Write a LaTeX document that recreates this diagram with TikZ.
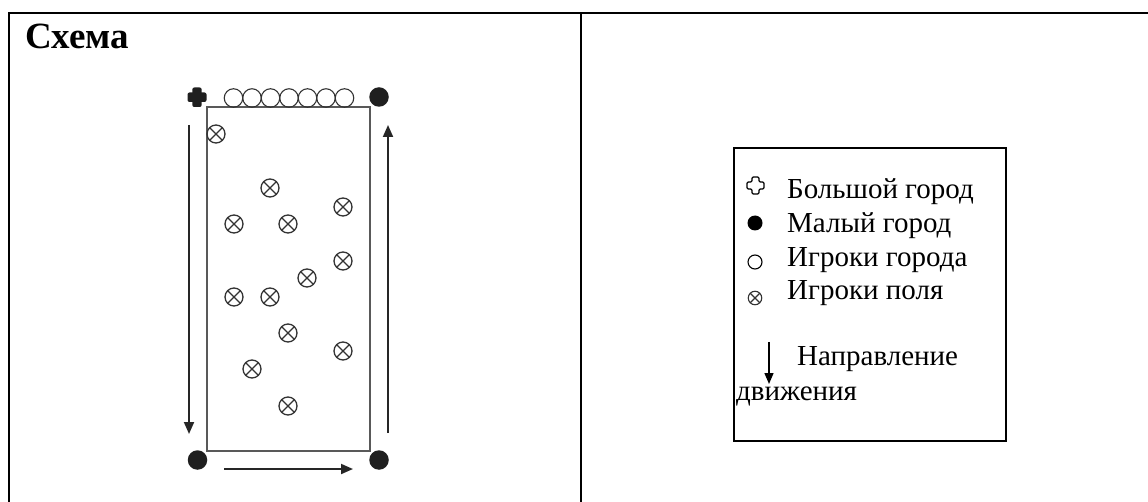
\documentclass[tikz,border=0pt]{standalone}
\usepackage{fontspec}
\setmainfont{Liberation Serif}
\usetikzlibrary{arrows.meta}
\begin{document}
\begin{tikzpicture}[x=1pt,y=-1pt,
  frame/.style={line width=2.4pt,black},
  pitch/.style={draw=black!65,line width=1.4pt,fill=white,minimum width=163pt,minimum height=344pt,inner sep=0pt},
  town/.style={circle,fill=black!88,minimum size=19.5pt,inner sep=0pt},
  cityplayer/.style={circle,draw=black!80,line width=1.1pt,minimum size=18.5pt,inner sep=0pt},
  fieldplayer/.style={circle,draw=black!80,line width=1.3pt,minimum size=18pt,inner sep=0pt,
    path picture={\draw[black!80,line width=1.3pt]
      (path picture bounding box.north west)--(path picture bounding box.south east)
      (path picture bounding box.north east)--(path picture bounding box.south west);}},
  move/.style={line width=1.9pt,black!85,-{Triangle[length=12pt,width=10pt]}},
  legtext/.style={anchor=base west,inner sep=0pt,font=\fontsize{29}{34}\selectfont},
  keycity/.style={circle,draw=black,line width=1.1pt,minimum size=14pt,inner sep=0pt},
  keytown/.style={circle,fill=black,minimum size=15pt,inner sep=0pt},
  keyfield/.style={fieldplayer,minimum size=13.5pt,line width=1.1pt},
]
\useasboundingbox (0,0) rectangle (1148,502);

% table frame
\draw[frame] (9,520) -- (9,13) -- (1160,13);
\draw[frame] (581,13) -- (581,520);
\node[anchor=base west,inner sep=0pt,font=\fontsize{37}{42}\selectfont\bfseries] (title) at (25,49) {Схема};

% pitch
\node[pitch] (field) at (288.5,279) {};

% big city: filled cross
\fill[black!88,rounded corners=2pt] (187.5,92.5) rectangle (206.5,102);
\fill[black!88,rounded corners=2pt] (192.3,87.5) rectangle (201.7,107);
\coordinate (bigcity) at (197,97);

% small towns
\node[town] (townNE) at (379,97) {};
\node[town] (townSW) at (197.5,460) {};
\node[town] (townSE) at (379,460) {};

% city players lined up along the top edge
\foreach \i in {0,...,6}
  \node[cityplayer] (cp\i) at (233.5+18.5*\i,98) {};

% field players
\foreach \n/\x/\y in {a/216/134, b/270/188, c/343/207, d/234/224, e/288/224,
  f/343/261, g/307/278, h/234/297, i/270/297, j/288/333, k/343/351,
  l/252/369, m/288/406}
  \node[fieldplayer] (fp\n) at (\x,\y) {};

% directions of movement
\coordinate (lt) at (189,125);  \coordinate (lb) at (189,434);
\coordinate (rb) at (388,433);  \coordinate (rt) at (388,125);
\coordinate (bl) at (224,469);  \coordinate (br) at (353,469);
\draw[move] (lt) -- (lb);
\draw[move] (bl) -- (br);
\draw[move] (rb) -- (rt);

% legend
\draw[line width=1.6pt] (734,148) rectangle (1006,441);
\draw[black,line width=1.2pt,rounded corners=1.2pt]
  (752,177) -- (759,177) -- (759,182) -- (764,182) -- (764,189)
  -- (759,189) -- (759,194) -- (752,194) -- (752,189) -- (747,189)
  -- (747,182) -- (752,182) -- cycle;
\coordinate (keybig) at (755.5,185.5);
\node[legtext] (lbig) at (787,199) {Большой город};
\node[keytown] (keysmall) at (755,223) {};
\node[legtext] (lsmall) at (787,233) {Малый город};
\node[keycity] (keyplayer) at (755,262) {};
\node[legtext] (lcity) at (787,267) {Игроки города};
\node[keyfield] (keyfp) at (755,298) {};
\node[legtext] (lfield) at (787,300) {Игроки поля};
\coordinate (ka) at (769,342); \coordinate (kb) at (769,384);
\draw[line width=1.4pt,-{Triangle[length=11pt,width=9pt]}] (ka) -- (kb);
\node[legtext] (ldir) at (797,366) {Направление};
\node[legtext] (ldir2) at (736,400) {движения};
\end{tikzpicture}
\end{document}
